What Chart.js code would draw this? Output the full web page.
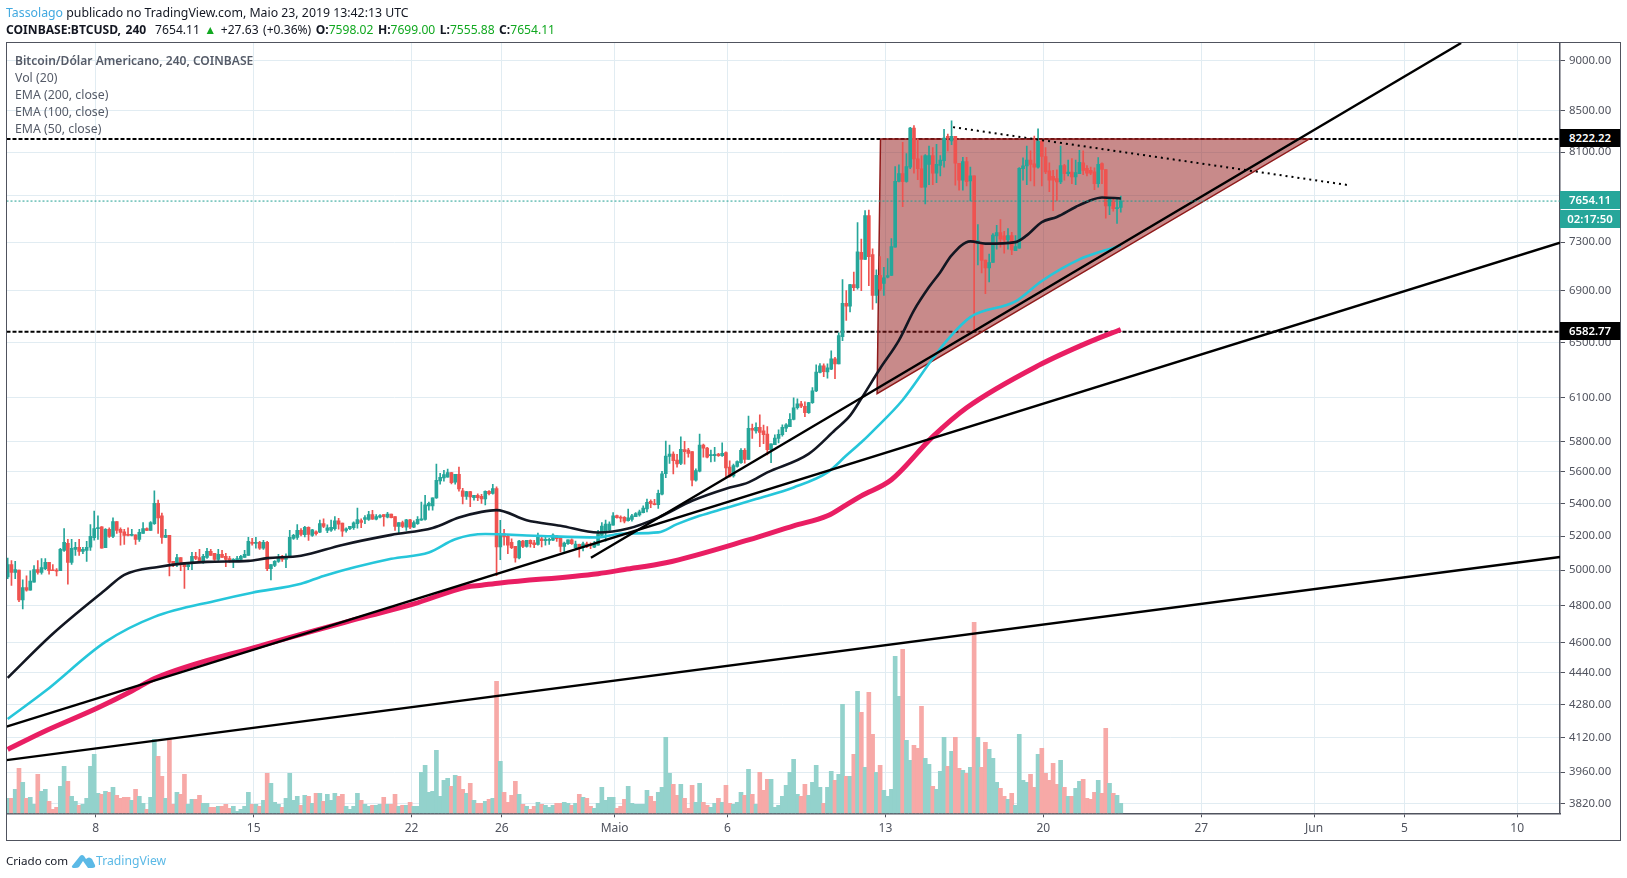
<!DOCTYPE html>
<html lang="pt">
<head>
<meta charset="utf-8">
<title>BTCUSD 240</title>
<script src="https://cdn.jsdelivr.net/npm/chart.js@4"></script>
<style>
  html, body { margin: 0; padding: 0; background: #fff; }
  body { position: relative; width: 1627px; height: 878px; overflow: hidden; font-family: "Noto Sans", sans-serif; }
  canvas { position: absolute; left: 0; top: 0; }
  .txt { position: absolute; white-space: nowrap; line-height: 17px; font-size: 12.3px; }
  #frame { position: absolute; left: 6px; top: 42px; width: 1615px; height: 799px; box-sizing: border-box; border: 1.5px solid #50535e; }
  .head { color: #131722; }
  .head a { color: #42a9e0; }
  .head b { font-weight: 700; }
  .head i { font-style: normal; color: #11a820; }
  .leg { left: 15px; color: #555b68; }
  .box { position: absolute; left: 1560px; width: 60px; color: #fff; font-size: 11.4px; font-weight: 600; text-align: center; }
  .footer { left: 6px; top: 852px; color: #131722; font-size: 11.6px; }
  .tvlink { left: 96px; top: 852px; color: #5bb9e6; font-size: 12.2px; }
  svg { position: absolute; left: 71px; top: 852px; }
</style>
</head>
<body>
<canvas id="chart" width="1627" height="878"></canvas>
<div id="frame"></div>

<div class="txt head" style="left:6px;top:4px"><a>Tassolago</a> publicado no TradingView.com, Maio 23, 2019 13:42:13 UTC</div>
<div class="txt head" style="left:6px;top:21px;font-size:12.1px;word-spacing:1.3px"><b>COINBASE:BTCUSD, 240</b>&nbsp; 7654.11 <i>▲</i> +27.63 (+0.36%) <b>O:</b><i>7598.02</i> <b>H:</b><i>7699.00</i> <b>L:</b><i>7555.88</i> <b>C:</b><i>7654.11</i></div>

<div class="txt leg" style="top:52px;font-weight:600;font-size:12.05px">Bitcoin/Dólar Americano, 240, COINBASE</div>
<div class="txt leg" style="top:69px">Vol (20)</div>
<div class="txt leg" style="top:86px">EMA (200, close)</div>
<div class="txt leg" style="top:103px">EMA (100, close)</div>
<div class="txt leg" style="top:120px">EMA (50, close)</div>

<div class="box" style="top:129px;height:18px;line-height:18px;background:#000">8222.22</div>
<div class="box" style="top:191px;height:18px;line-height:18px;background:#26a69a">7654.11</div>
<div class="box" style="top:210px;height:18px;line-height:18px;background:#26a69a">02:17:50</div>
<div class="box" style="top:322px;height:18px;line-height:18px;background:#000">6582.77</div>

<div class="txt footer">Criado com</div>
<svg width="25" height="18" viewBox="0 0 25 18"><path d="M1 14 L9 4 Q11 2 13 4 L15 7 Q18 4 21 7 L24 13 Q25 16 21 16 L17 16 L12 9 L8 15 Q7 16 4 16 Q0 16 1 14 Z" fill="#5bb9e6"/></svg>
<div class="txt tvlink">TradingView</div>

<script>
// Candles, one every 4h
const opens = [
  4960,5032,4986,5000,4830,4900,4885,4930,5002,4986,
  5008,5044,4998,5000,4996,5115,5156,5044,5121,5133,
  5109,5115,5133,5190,5245,5255,5130,5240,5198,5287,
  5240,5226,5208,5204,5208,5180,5215,5245,5234,5275,
  5400,5322,5192,5204,5050,5038,5073,5044,5020,5044,
  5079,5073,5050,5073,5109,5097,5062,5091,5079,5067,
  5055,5055,5062,5073,5085,5162,5156,5162,5127,5162,
  5008,5026,5050,5073,5062,5079,5186,5192,5234,5208,
  5252,5204,5226,5224,5275,5234,5236,5244,5292,5278,
  5234,5244,5250,5274,5294,5300,5300,5330,5302,5314,
  5330,5314,5334,5318,5258,5282,5254,5298,5254,5274,
  5296,5300,5384,5384,5434,5542,5560,5565,5595,5534,
  5584,5478,5444,5474,5436,5450,5444,5428,5476,5462,
  5492,5135,5214,5198,5162,5138,5070,5170,5138,5174,
  5160,5150,5184,5172,5174,5176,5200,5190,5138,5154,
  5178,5130,5150,5134,5154,5150,5134,5145,5204,5230,
  5235,5266,5324,5315,5314,5293,5300,5318,5328,5342,
  5365,5412,5398,5392,5458,5588,5700,5716,5676,5655,
  5746,5742,5732,5546,5604,5775,5755,5706,5706,5716,
  5706,5725,5630,5574,5635,5660,5740,5680,5888,5870,
  5895,5872,5850,5745,5778,5820,5845,5890,5900,5950,
  6030,6058,6040,5995,6066,6148,6280,6328,6285,6305,
  6380,6343,6546,6802,6780,6950,6926,7214,7156,7528,
  7196,6864,7026,6960,7010,7024,7258,7830,7900,7830,
  7960,8328,8036,7945,7778,7985,8066,7905,7975,8020,
  8248,8205,8248,7996,7840,8010,7835,7880,7290,7285,
  7150,7085,7130,7352,7380,7354,7318,7355,7228,7250,
  7945,7970,8026,7990,7960,8200,8058,7925,7875,7855,
  7825,7975,7900,7915,7870,7900,8000,7950,7930,7916,
  7810,7993,7938,7611,7657,7587,7598.02
];
const highs = [
  5069,5055,5050,5000,4943,4966,4996,5026,5055,5067,
  5067,5044,5032,5008,5127,5245,5180,5180,5162,5180,
  5133,5168,5269,5352,5323,5257,5245,5250,5310,5287,
  5250,5240,5250,5240,5208,5240,5281,5250,5287,5478,
  5420,5340,5240,5204,5050,5091,5073,5044,5044,5103,
  5103,5121,5091,5127,5121,5097,5121,5115,5097,5079,
  5067,5079,5085,5115,5192,5186,5192,5168,5174,5168,
  5032,5055,5091,5085,5095,5234,5210,5269,5245,5258,
  5256,5240,5232,5296,5304,5268,5296,5318,5308,5278,
  5250,5258,5286,5370,5304,5324,5350,5356,5330,5330,
  5330,5344,5334,5318,5282,5290,5302,5302,5292,5318,
  5408,5450,5408,5434,5650,5590,5610,5618,5596,5584,
  5630,5494,5476,5476,5450,5460,5456,5478,5480,5520,
  5504,5295,5240,5204,5184,5138,5174,5174,5174,5178,
  5175,5218,5204,5194,5186,5214,5204,5194,5164,5178,
  5184,5170,5152,5164,5164,5160,5168,5235,5282,5297,
  5286,5342,5328,5322,5318,5365,5332,5343,5358,5385,
  5426,5422,5425,5484,5603,5802,5775,5730,5714,5830,
  5800,5754,5732,5620,5850,5782,5760,5742,5760,5720,
  5790,5730,5672,5650,5672,5752,5752,5972,5918,5925,
  5980,5910,5900,5784,5845,5878,5912,5920,5990,6100,
  6092,6075,6072,6068,6172,6336,6345,6343,6343,6440,
  6392,6575,6992,6902,6952,7052,7467,7326,7570,7576,
  7243,7070,7180,7090,7162,7330,7966,7982,8190,8085,
  8335,8352,8220,8065,8076,8155,8142,8172,8066,8315,
  8270,8396,8248,7996,8050,8050,7960,7880,7450,7285,
  7150,7200,7372,7442,7492,7392,7415,7384,7355,7955,
  8045,8155,8112,8250,8320,8210,8142,8000,7930,7935,
  8155,7985,8025,8040,8025,8115,8110,7975,7960,7953,
  8047,8000,7938,7672,7672,7672,7699
];
const lows = [
  4950,4912,4950,4820,4780,4880,4885,4930,4976,4976,
  5002,4976,4996,4966,4996,5109,4919,5032,5085,5085,
  5095,5050,5115,5175,5180,5127,5130,5192,5190,5215,
  5145,5150,5200,5200,5150,5168,5215,5232,5234,5270,
  5215,5156,5190,4966,5020,5020,4996,4895,5002,5002,
  5060,5044,5038,5067,5085,5055,5055,5073,5020,5044,
  5014,5050,5055,5073,5085,5145,5127,5121,5121,4996,
  4943,5020,5044,5050,5014,5073,5180,5180,5200,5194,
  5174,5198,5205,5220,5250,5220,5228,5236,5242,5198,
  5224,5238,5240,5248,5250,5274,5294,5300,5298,5310,
  5260,5310,5310,5234,5220,5250,5234,5244,5250,5270,
  5294,5296,5358,5358,5430,5520,5540,5565,5522,5520,
  5476,5396,5424,5380,5420,5416,5400,5390,5452,5458,
  4968,5060,5145,5095,5125,5045,5065,5130,5134,5134,
  5130,5145,5135,5146,5150,5172,5168,5105,5108,5150,
  5150,5120,5075,5112,5130,5125,5130,5145,5192,5170,
  5220,5266,5308,5286,5280,5290,5290,5318,5320,5340,
  5346,5373,5390,5368,5452,5563,5654,5586,5630,5646,
  5650,5696,5510,5540,5600,5696,5690,5664,5668,5700,
  5700,5560,5565,5565,5630,5654,5656,5680,5820,5855,
  5765,5785,5710,5660,5778,5790,5835,5865,5900,5945,
  6020,6030,5968,5990,6060,6142,6278,6250,6240,6300,
  6235,6343,6515,6670,6735,6903,6915,6903,7156,6943,
  6755,6805,6903,6864,7005,7024,7258,7825,7605,7822,
  7945,7905,7845,7775,7628,7800,7800,7818,7880,7960,
  8110,8170,7795,7750,7750,7790,7656,6592,7110,7046,
  6878,6972,7130,7240,7258,7208,7240,7195,7228,7250,
  7840,7800,7835,7790,7950,7790,7900,7738,7570,7656,
  7810,7840,7880,7810,7800,7900,7890,7880,7890,7755,
  7779,7810,7505,7535,7566,7459,7555.88
];
const closes = [
  5032,4986,5002,4830,4900,4885,4937,5002,4986,5014,
  5044,4996,4996,4994,5121,5162,5044,5127,5133,5109,
  5121,5133,5198,5245,5250,5127,5240,5198,5287,5234,
  5222,5204,5204,5210,5180,5222,5245,5234,5281,5400,
  5310,5192,5204,5044,5038,5073,5044,5020,5032,5079,
  5067,5050,5079,5109,5085,5062,5091,5073,5062,5055,
  5062,5067,5079,5091,5168,5156,5162,5127,5162,5008,
  5032,5050,5073,5062,5079,5192,5204,5234,5210,5252,
  5210,5238,5214,5275,5258,5250,5252,5292,5272,5230,
  5244,5258,5280,5300,5282,5312,5330,5302,5318,5324,
  5318,5334,5312,5258,5282,5258,5298,5254,5282,5302,
  5304,5390,5400,5434,5545,5565,5582,5595,5530,5584,
  5490,5444,5474,5440,5450,5436,5428,5476,5460,5492,
  5135,5214,5194,5145,5130,5070,5170,5138,5174,5154,
  5148,5194,5172,5180,5180,5206,5184,5138,5158,5178,
  5154,5152,5130,5154,5138,5142,5150,5214,5260,5272,
  5272,5322,5312,5308,5290,5310,5322,5337,5348,5370,
  5406,5398,5392,5462,5587,5702,5716,5672,5652,5748,
  5732,5720,5546,5608,5775,5755,5696,5712,5714,5706,
  5720,5626,5570,5640,5666,5740,5680,5888,5876,5895,
  5860,5845,5745,5784,5822,5848,5895,5912,5950,6030,
  6058,6040,5995,6066,6148,6284,6328,6287,6315,6380,
  6343,6554,6802,6780,6950,6926,7218,7156,7528,7178,
  6864,7026,6915,7005,7024,7262,7830,7900,7828,7966,
  8328,8036,7945,7778,8066,8066,7905,7985,8026,8232,
  8234,8248,7996,7840,8010,7828,7880,7310,7312,7148,
  7085,7130,7360,7380,7325,7318,7355,7235,7262,7950,
  7972,8026,7985,7960,8200,8058,7915,7840,7840,7825,
  7975,7900,7915,7870,7910,8005,7930,7905,7905,7810,
  7986,7938,7611,7672,7587,7596,7654.11
];
const volumes = [
  1500,1500,2400,4500,3100,1500,1600,900,3900,2200,
  2400,1200,400,600,2700,4700,3200,1700,1200,800,
  900,1500,4700,5900,2000,1900,2200,2100,2600,1800,
  1500,1600,1600,1300,2400,1700,1000,400,1600,7400,
  5700,3700,1500,7400,900,2100,1900,3900,900,1400,
  1400,1800,1000,1000,600,600,700,700,900,500,
  700,200,400,700,2100,900,900,700,1300,4000,
  3000,1100,900,600,1500,4000,1300,1700,800,1800,
  1700,1000,2000,2000,1200,1900,1300,2000,1700,1900,
  700,400,700,2000,1300,900,700,800,800,900,
  1600,900,900,1900,700,800,800,1100,700,700,
  4100,4800,2100,2200,6300,1700,3300,3500,2700,3800,
  3700,2400,2000,3000,1300,1000,1000,1200,1400,1500,
  13200,5200,2100,1100,1800,3200,1900,900,700,400,
  700,1100,900,800,600,800,1000,1000,1100,1000,
  800,1000,1900,1600,1500,700,500,1000,2600,1300,
  1600,1600,500,700,1400,2700,1000,900,900,900,
  2300,1700,1200,2100,2600,7600,4000,2900,1800,2900,
  1500,500,2800,1100,3000,1100,800,600,1000,1500,
  1100,2800,1000,900,1100,2100,1800,4400,1900,900,
  4100,2300,3400,3400,600,800,1700,2800,4100,5400,
  1900,1700,2900,1800,3100,4800,2600,1000,2600,4200,
  3300,3900,10900,3700,3700,5900,12200,10100,4600,12100,
  7900,4100,4800,2300,1700,2400,15700,11700,16400,7300,
  5300,6800,6500,10700,5500,4900,2700,2400,4200,7600,
  4700,6200,7600,4500,4300,4000,4600,19100,7600,4600,
  7100,6400,5500,3100,2500,1700,1400,2000,800,7900,
  3300,3100,3900,2600,5900,6500,4000,3300,5000,2900,
  5300,2600,1700,1700,2500,3200,3400,1500,1400,2100,
  3300,2000,8500,3000,2000,1800,1000
];

// EMAs, sampled at the bars where the curve could be read
const ema50Bars = [0,12,26,31,40,53,64,69,78,89,102,113,120,126,130,138,147,157,165,173,182,191,197,202,213,220,224,227,232,237,241,245,248,251,256,260,268,271,275,279,284,288,291,296];
const ema50 = [4415,4645,4887,4972,5018,5047,5053,5069,5083,5147,5207,5249,5312,5347,5358,5296,5262,5221,5245,5312,5416,5492,5532,5596,5717,5877,5975,6094,6309,6517,6747,6931,7051,7189,7306,7287,7300,7357,7471,7515,7602,7662,7686,7677];
const ema100Bars = [0,10,26,39,56,65,78,84,102,112,119,127,140,157,163,173,178,184,191,199,209,218,223,227,230,238,246,250,256,268,275,285,291,296];
const ema100 = [4210,4348,4602,4737,4829,4871,4921,4966,5065,5102,5181,5212,5202,5191,5214,5222,5272,5323,5371,5427,5500,5596,5706,5794,5868,6084,6382,6525,6695,6817,6980,7156,7224,7271];
const ema200Bars = [0,9,24,33,39,67,94,108,122,126,131,157,164,175,197,209,218,223,227,235,246,255,274,288,296];
const ema200 = [4065,4144,4265,4348,4411,4580,4731,4808,4903,4913,4926,4979,5003,5042,5177,5262,5323,5391,5447,5549,5832,6030,6330,6510,6600];

// Drawings on the chart: bar index and price of each end
const steepLineBars = [155.1, 386.5];
const steepLinePrices = [5071, 9186];
const midLineBars = [-0.32, 412.8];
const midLinePrices = [4173, 7295];
const lowLineBars = [-0.32, 412.8];
const lowLinePrices = [4015, 5076];
const dottedBars = [251.4, 356.2];
const dottedPrices = [8336, 7798];
const triangleBars = [232.1, 231.2, 346.1, 232.1];
const trianglePrices = [8222.22, 6129, 8222.22, 8222.22];
const levels = [8222.22, 6582.77];
const lastPrice = 7654.11;

const priceTicks = [9000,8500,8100,7700,7300,6900,6500,6100,5800,5600,5400,5200,5000,4800,4600,4440,4280,4120,3960,3820];
const dateTickBars = [23.4,65.4,107.4,131.4,161.4,191.4,233.4,275.4,317.4,347.4,371.4,401.4];
const dateLabels = ['8','15','22','26','Maio','6','13','20','27','Jun','5','10'];

const UP = '#26a69a', DOWN = '#ef5350';
const xMin = -0.32, xMax = 412.8;

const zip = (xs, ys) => xs.map((x, i) => ({ x, y: ys[i] }));
const isUp = i => closes[i] >= opens[i];

const lineSet = (data, color, width, order, dash) => ({
  type: 'line', data, borderColor: color, borderWidth: width, borderDash: dash || [],
  pointRadius: 0, tension: 0, fill: false, order
});
const emaSet = (data, color, width, order) =>
  Object.assign(lineSet(data, color, width, order), { cubicInterpolationMode: 'monotone' });

const datasets = [
  {
    type: 'bar', yAxisID: 'vol', order: 10, grouped: false, barThickness: 4,
    data: volumes.map((v, i) => ({ x: i, y: v })),
    // solid tints, neighbouring bars overlap a little and would stripe with alpha
    backgroundColor: volumes.map((v, i) => isUp(i) ? '#93d2cc' : '#f7a9a7')
  },
  lineSet([{ x: xMin, y: levels[0] }, { x: xMax, y: levels[0] }], '#000', 2, 9, [4, 2]),
  lineSet([{ x: xMin, y: levels[1] }, { x: xMax, y: levels[1] }], '#000', 2, 9, [4, 2]),
  lineSet([{ x: xMin, y: lastPrice }, { x: xMax, y: lastPrice }], '#1f9e92', 1, 2, [2, 2]),
  Object.assign(lineSet(zip(triangleBars, trianglePrices), '#8f1a1a', 1.5, 8), {
    fill: 'shape', backgroundColor: 'rgba(145,22,22,0.5)'
  }),
  {
    type: 'bar', order: 7, grouped: false, barThickness: 1,
    data: highs.map((h, i) => ({ x: i, y: [lows[i], h] })),
    backgroundColor: highs.map((h, i) => isUp(i) ? UP : DOWN)
  },
  {
    type: 'bar', order: 6, grouped: false, barThickness: 3, minBarLength: 1,
    data: opens.map((o, i) => ({ x: i, y: [Math.min(o, closes[i]), Math.max(o, closes[i])] })),
    backgroundColor: opens.map((o, i) => isUp(i) ? UP : DOWN)
  },
  emaSet(zip(ema200Bars, ema200), '#e91e63', 5, 5),
  emaSet(zip(ema100Bars, ema100), '#26c6da', 2.6, 5),
  emaSet(zip(ema50Bars, ema50), '#131722', 2.6, 4),
  lineSet(zip(steepLineBars, steepLinePrices), '#000', 2.4, 3),
  lineSet(zip(midLineBars, midLinePrices), '#000', 2.4, 3),
  lineSet(zip(lowLineBars, lowLinePrices), '#000', 2.4, 3),
  lineSet(zip(dottedBars, dottedPrices), '#000', 2, 3, [2, 4])
];

new Chart(document.getElementById('chart').getContext('2d'), {
  type: 'bar',
  data: { datasets },
  options: {
    responsive: false,
    animation: false,
    events: [],
    layout: { padding: { left: 6.5, top: 43, right: 0, bottom: 0 } },
    plugins: { legend: { display: false }, tooltip: { enabled: false } },
    scales: {
      x: {
        type: 'linear', min: xMin, max: xMax, offset: false,
        afterBuildTicks: s => { s.ticks = dateTickBars.map(value => ({ value })); },
        afterFit: s => { s.height = 64.7; },
        grid: { offset: false, color: '#e1ecf2', tickColor: '#50535e', tickLength: 4 },
        border: { color: '#50535e', width: 1.5 },
        ticks: {
          autoSkip: false, maxRotation: 0, padding: 4, color: '#50535e',
          font: { family: '"Noto Sans", sans-serif', size: 12 },
          callback: v => dateLabels[dateTickBars.indexOf(v)]
        }
      },
      y: {
        type: 'logarithmic', position: 'right', min: 3776, max: 9186,
        afterBuildTicks: s => { s.ticks = priceTicks.map(value => ({ value })); },
        afterFit: s => { s.width = 67; },
        grid: { color: '#e1ecf2', tickColor: '#50535e', tickLength: 5 },
        border: { color: '#50535e', width: 1.5 },
        ticks: {
          autoSkip: false, padding: 4, color: '#50535e',
          font: { family: '"Noto Sans", sans-serif', size: 11.4 },
          // 7700 sits behind the last price box
          callback: v => v === 7700 ? '' : Number(v).toFixed(2)
        }
      },
      vol: { type: 'linear', display: false, min: 0, max: 77030 }
    }
  }
});
</script>
</body>
</html>
